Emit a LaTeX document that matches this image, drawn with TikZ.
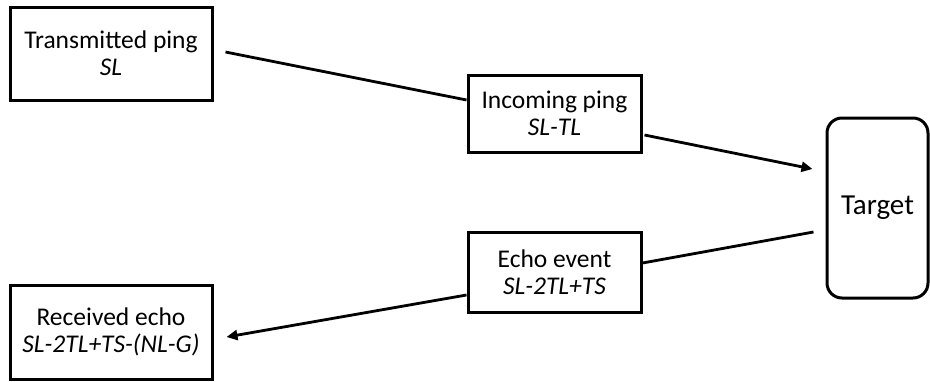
\documentclass[tikz,border=0pt]{standalone}
\usepackage{fontspec}
\setmainfont{Carlito}
\usetikzlibrary{arrows.meta,calc}
\begin{document}
\begin{tikzpicture}[x=1pt,y=-1pt,
  box/.style={draw=black,line width=3pt,inner sep=0pt,align=center,
    font=\fontsize{25.5}{27}\selectfont},
  conn/.style={draw=black,line width=2.8pt},
  arr/.style={conn,-{Triangle[length=11pt,width=10pt]}}]
\useasboundingbox (0,0) rectangle (930,381);
\node[box,minimum width=202pt,minimum height=93pt] (T) at (111,53.5)
  {Transmitted ping\\\textit{SL}};
\node[box,minimum width=173pt,minimum height=77pt] (I) at (554.5,113.5)
  {Incoming ping\\\textit{SL-TL}};
\node[box,rounded corners=15pt,minimum width=101pt,minimum height=180pt,
  font=\fontsize{29}{32}\selectfont] (G) at (877.5,208) {Target};
\node[box,minimum width=173pt,minimum height=80pt] (E) at (554.5,272)
  {Echo event\\\textit{SL-2TL+TS}};
\node[box,minimum width=202pt,minimum height=94pt] (R) at (111,332)
  {Received echo\\\textit{SL-2TL+TS-(NL-G)}};
\draw[conn] ($(T.east)+(12,-1.5)$) -- ($(I.west)+(0,-13.5)$);
\draw[arr] ($(I.east)+(2,21.5)$) -- ($(G.west)+(-13,-39)$);
\draw[conn] ($(G.west)+(-12,24)$) -- ($(E.east)+(0,-9)$);
\draw[arr] ($(E.west)+(0,23)$) -- ($(R.east)+(13,5)$);
\end{tikzpicture}
\end{document}
